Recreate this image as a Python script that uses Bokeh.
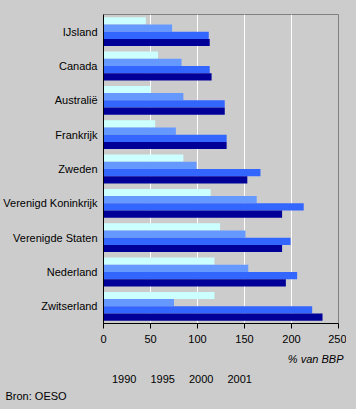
from bokeh.plotting import figure
from bokeh.layouts import column
from bokeh.models import FactorRange, Range1d, FixedTicker, Legend, LegendItem, Title, ColumnDataSource
from bokeh.transform import dodge
from bokeh.embed import file_html
from bokeh.resources import INLINE

countries = ["IJsland", "Canada", "Australië", "Frankrijk", "Zweden",
             "Verenigd Koninkrijk", "Verenigde Staten", "Nederland", "Zwitserland"]
years = ["1990", "1995", "2000", "2001"]
v1990 = [45, 58, 50, 55, 85, 114, 124, 118, 118]
v1995 = [73, 83, 85, 77, 99, 163, 151, 154, 75]
v2000 = [112, 113, 129, 131, 167, 213, 199, 206, 222]
v2001 = [113, 115, 129, 131, 153, 190, 190, 194, 233]
colors = ["#CCFFFF", "#6699FF", "#3366FF", "#000099"]
ticks = [0, 50, 100, 150, 200, 250]

src = ColumnDataSource(dict(country=countries, y1990=v1990, y1995=v1995,
                            y2000=v2000, y2001=v2001))

FONT = "Liberation Sans"
BG = "#CCCCCC"
p = figure(frame_width=235, frame_height=309,
           output_backend="svg", toolbar_location=None,
           y_range=FactorRange(factors=list(reversed(countries))),
           x_range=Range1d(0, 250),
           min_border_left=97, min_border_right=8, min_border_top=14, min_border_bottom=0)
p.background_fill_color = BG
p.border_fill_color = BG
p.outline_line_color = "#808080"

bh = 0.21
offsets = [1.5 * bh, 0.5 * bh, -0.5 * bh, -1.5 * bh]
for yr, col, off in zip(years, colors, offsets):
    p.hbar(y=dodge("country", off, range=p.y_range), right="y" + yr, left=0,
           height=bh, source=src, fill_color=col, line_color=None)

p.ygrid.grid_line_color = None
p.xgrid.grid_line_color = "white"
p.xgrid.ticker = FixedTicker(ticks=ticks)

p.xaxis.ticker = FixedTicker(ticks=ticks)
p.xaxis.axis_line_color = "black"
p.xaxis.major_tick_line_color = "black"
p.xaxis.major_tick_out = 5
p.xaxis.major_tick_in = 0
p.xaxis.minor_tick_line_color = None
p.xaxis.major_label_standoff = 6
p.xaxis.major_label_text_font = FONT
p.xaxis.major_label_text_font_size = "11px"
p.xaxis.major_label_text_color = "black"

p.yaxis.axis_line_color = "black"
p.yaxis.major_tick_line_color = None
p.yaxis.major_tick_out = 0
p.yaxis.major_tick_in = 0
p.yaxis.major_label_standoff = 6
p.yaxis.major_label_text_font = FONT
p.yaxis.major_label_text_font_size = "11px"
p.yaxis.major_label_text_color = "black"

p.add_layout(Title(text="% van BBP", align="right", text_font=FONT, text_font_size="11px",
                   text_font_style="italic", text_color="black", offset=-5), "below")

# footer figure holding the legend and the source line
f = figure(frame_width=235, frame_height=18, output_backend="svg", toolbar_location=None,
           x_range=Range1d(0, 1), y_range=Range1d(0, 1),
           x_axis_location=None, y_axis_location=None,
           min_border_left=97, min_border_right=8, min_border_top=0, min_border_bottom=0)
f.grid.visible = False
f.background_fill_alpha = 0
f.border_fill_color = BG
f.outline_line_color = None

swatches = []
for col in colors:
    swatches.append(f.hbar(y=[], right=[], left=[], height=0.5,
                           fill_color=col, line_color=None))

legend = Legend(items=[LegendItem(label=y, renderers=[r]) for y, r in zip(years, swatches)],
                orientation="horizontal", location=(0, 2),
                glyph_width=7, glyph_height=7, label_standoff=2, spacing=5,
                padding=0, margin=0, background_fill_alpha=0, border_line_color=None,
                label_text_font=FONT, label_text_font_size="11px", label_height=10,
                label_text_color="black")
f.add_layout(legend, "center")

f.add_layout(Title(text="Bron: OESO", align="left", text_font=FONT, text_font_size="11px",
                   text_font_style="normal", text_color="black", offset=-98, standoff=0),
             "below")

layout = column(p, f, spacing=0)
html = file_html(layout, INLINE)
html = html.replace("<head>", "<head><style>html, body { background: #CCCCCC; }</style>", 1)
open("out.html", "w").write(html)
